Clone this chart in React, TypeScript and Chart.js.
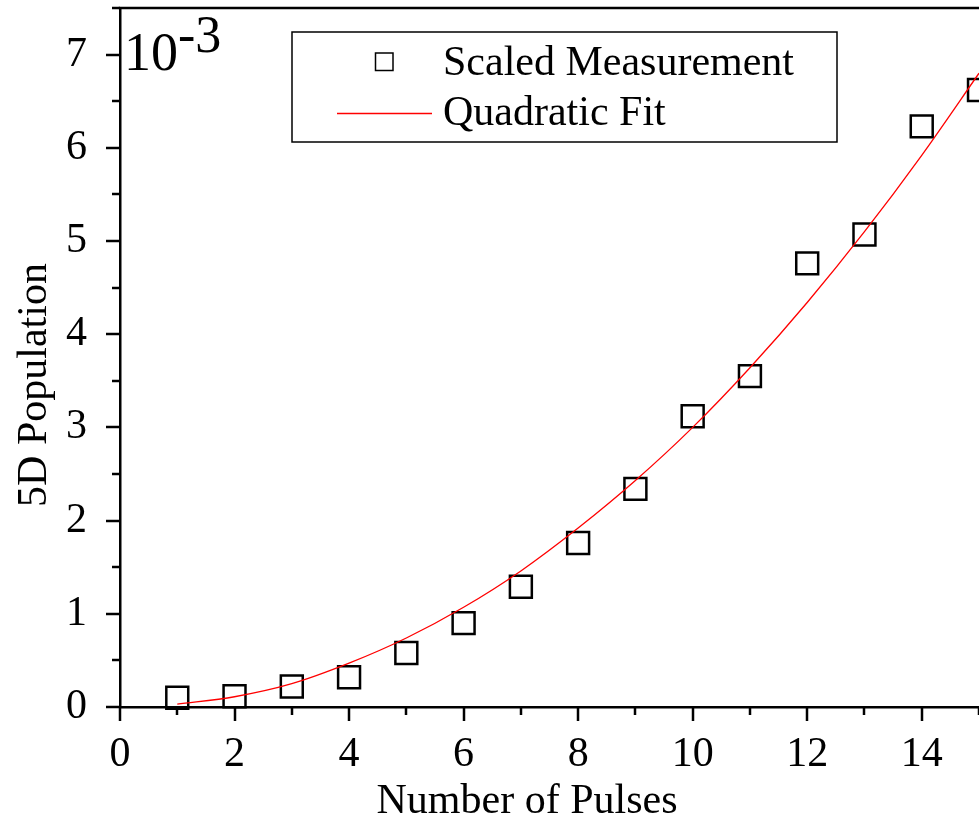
import React, { useEffect, useRef } from "react";
import { Chart, registerables } from "chart.js";

Chart.register(...registerables);

// ---- data ----
const pulses = [1, 2, 3, 4, 5, 6, 7, 8, 9, 10, 11, 12, 13, 14, 15];
const measured = [0.1, 0.115, 0.22, 0.32, 0.58, 0.9, 1.29, 1.76, 2.34, 3.12, 3.55, 4.76, 5.07, 6.23, 6.62];
const fitPulses = [1, 2, 3, 4, 5, 6, 7, 8, 9, 10, 11, 12, 13, 14, 15];
const fitValues = [0.03, 0.11, 0.25, 0.47, 0.74, 1.07, 1.46, 1.92, 2.43, 3.0, 3.64, 4.34, 5.1, 5.92, 6.8];

const xMajorTicks = [0, 2, 4, 6, 8, 10, 12, 14];
const xMinorTicks = [1, 3, 5, 7, 9, 11, 13, 15];
const yMajorTicks = [0, 1, 2, 3, 4, 5, 6, 7];
const yMinorTicks = [0.5, 1.5, 2.5, 3.5, 4.5, 5.5, 6.5, 7.5];

const seriesLabels = ["Scaled Measurement", "Quadratic Fit"];
const xTitle = "Number of Pulses";
const yTitle = "5D Population";
const scaleBase = "10";
const scaleExp = "-3";

const FONT = '"Liberation Serif", "Times New Roman", serif';

const decorPlugin = {
  id: "decor",
  afterDraw(chart: any) {
    const { ctx, chartArea, scales } = chart;
    const { left, right, top, bottom } = chartArea;
    ctx.save();
    ctx.strokeStyle = "#000";
    ctx.fillStyle = "#000";

    // top frame line
    ctx.lineWidth = 2.5;
    ctx.beginPath();
    ctx.moveTo(left - 1.25, top);
    ctx.lineTo(right, top);
    ctx.stroke();

    // tick marks
    const xs = scales.x;
    const ys = scales.y;
    const drawX = (vals: number[], len: number) => {
      vals.forEach((v) => {
        const px = Math.round(xs.getPixelForValue(v));
        ctx.beginPath();
        ctx.moveTo(px, bottom);
        ctx.lineTo(px, bottom + len);
        ctx.stroke();
      });
    };
    const drawY = (vals: number[], len: number) => {
      vals.forEach((v) => {
        const py = Math.round(ys.getPixelForValue(v));
        ctx.beginPath();
        ctx.moveTo(left, py);
        ctx.lineTo(left - len, py);
        ctx.stroke();
      });
    };
    ctx.lineWidth = 2.5;
    drawX(xMajorTicks, 14);
    drawX(xMinorTicks, 8);
    drawY(yMajorTicks, 14);
    drawY(yMinorTicks, 8);

    // axis titles
    ctx.font = `42px ${FONT}`;
    ctx.textAlign = "center";
    ctx.textBaseline = "alphabetic";
    ctx.fillText(xTitle, 527, 813);
    ctx.save();
    ctx.translate(46, 385);
    ctx.rotate(-Math.PI / 2);
    ctx.fillText(yTitle, 0, 0);
    ctx.restore();

    // 10^-3 multiplier
    ctx.textAlign = "left";
    ctx.font = `54px ${FONT}`;
    ctx.fillText(scaleBase, 124, 70);
    const w = ctx.measureText(scaleBase).width;
    ctx.font = `52px ${FONT}`;
    ctx.fillText(scaleExp, 124 + w, 52);

    // legend
    const ds = chart.data.datasets;
    ctx.lineWidth = 1.5;
    ctx.strokeRect(292, 32, 545, 110);
    ctx.strokeRect(375.5, 53, 17.5, 17.5);
    ctx.strokeStyle = ds[1].borderColor;
    ctx.lineWidth = 1.3;
    ctx.beginPath();
    ctx.moveTo(337, 113.5);
    ctx.lineTo(432, 113.5);
    ctx.stroke();
    ctx.font = `42px ${FONT}`;
    ctx.fillStyle = "#000";
    ctx.fillText(ds[0].label, 443, 75);
    ctx.fillText(ds[1].label, 443, 125);

    ctx.restore();
  },
};

const zeroPad = (s: any) => {
  s.paddingTop = 0;
  s.paddingBottom = 0;
  s.paddingLeft = 0;
  s.paddingRight = 0;
};

export default function App() {
  const ref = useRef<HTMLCanvasElement | null>(null);

  useEffect(() => {
    if (!ref.current) return;
    const chart = new Chart(ref.current, {
      type: "scatter",
      data: {
        datasets: [
          {
            label: seriesLabels[0],
            data: pulses.map((x, i) => ({ x, y: measured[i] })),
            pointStyle: "rect",
            pointRadius: 15.5,
            pointHoverRadius: 15.5,
            pointBorderWidth: 2.5,
            borderColor: "#000",
            backgroundColor: "rgba(0,0,0,0)",
            showLine: false,
            clip: false,
            order: 1,
          } as any,
          {
            label: seriesLabels[1],
            data: fitPulses.map((x, i) => ({ x, y: fitValues[i] })),
            showLine: true,
            borderColor: "#ff0000",
            borderWidth: 1.3,
            pointRadius: 0,
            cubicInterpolationMode: "monotone",
            fill: false,
            order: 0,
          } as any,
        ],
      },
      options: {
        responsive: false,
        animation: false,
        events: [],
        layout: { autoPadding: false, padding: { top: 8, left: 0, right: 0, bottom: 0 } },
        plugins: {
          legend: { display: false },
          tooltip: { enabled: false },
          title: { display: false },
        },
        scales: {
          x: {
            type: "linear",
            min: 0,
            max: 15,
            grid: { display: false },
            border: { display: true, width: 2.5, color: "#000" },
            ticks: {
              color: "#000",
              font: { family: FONT, size: 42 },
              padding: 15,
              maxRotation: 0,
              autoSkip: false,
              includeBounds: false,
            },
            afterBuildTicks: (s: any) => {
              s.ticks = xMajorTicks.map((v) => ({ value: v }));
            },
            afterFit: (s: any) => {
              s.height = 114;
              zeroPad(s);
            },
          },
          y: {
            type: "linear",
            min: 0,
            max: 7.5,
            grid: { display: false },
            border: { display: true, width: 2.5, color: "#000" },
            ticks: {
              color: "#000",
              font: { family: FONT, size: 42 },
              padding: 25,
              autoSkip: false,
              includeBounds: false,
            },
            afterBuildTicks: (s: any) => {
              s.ticks = yMajorTicks.map((v) => ({ value: v }));
            },
            afterFit: (s: any) => {
              s.width = 120;
              zeroPad(s);
            },
          },
        },
      } as any,
      plugins: [decorPlugin],
    });
    return () => chart.destroy();
  }, []);

  return (
    <canvas
      ref={ref}
      width={979}
      height={821}
      style={{ position: "absolute", left: 0, top: 0, display: "block" }}
    />
  );
}
